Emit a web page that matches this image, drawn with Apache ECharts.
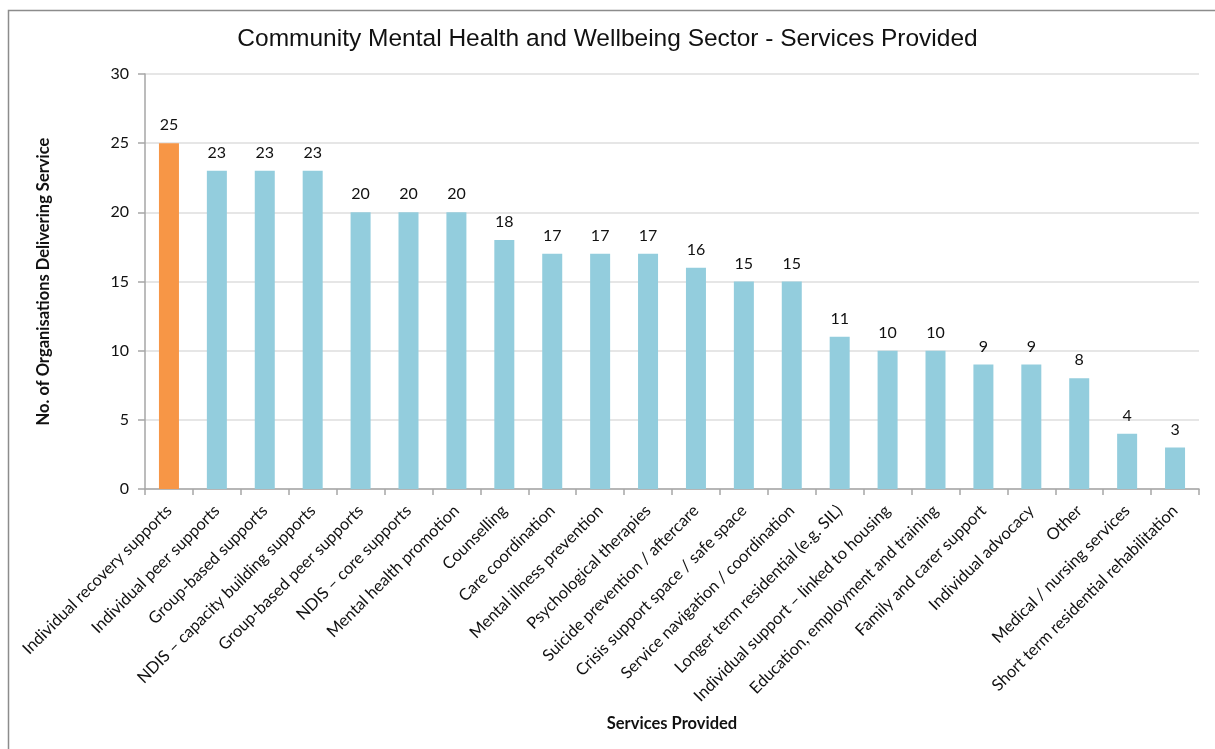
<!DOCTYPE html>
<html>
<head>
<meta charset="utf-8">
<script src="https://cdn.jsdelivr.net/npm/echarts@6/dist/echarts.min.js"></script>
<style>
  html, body { margin: 0; padding: 0; background: #ffffff; }
  #chart { width: 1215px; height: 749px; }
</style>
</head>
<body>
<div id="chart"></div>
<script>
// Services offered by community mental health organisations
const services = [
  'Individual recovery supports',
  'Individual peer supports',
  'Group-based supports',
  'NDIS \u2013 capacity building supports',
  'Group-based peer supports',
  'NDIS \u2013 core supports',
  'Mental health promotion',
  'Counselling',
  'Care coordination',
  'Mental illness prevention',
  'Psychological therapies',
  'Suicide prevention / aftercare',
  'Crisis support space / safe space',
  'Service navigation / coordination',
  'Longer term residential (e.g. SIL)',
  'Individual support \u2013 linked to housing',
  'Education, employment and training',
  'Family and carer support',
  'Individual advocacy',
  'Other',
  'Medical / nursing services',
  'Short term residential rehabilitation'
];

// Number of organisations delivering each service
const orgCounts = [25, 23, 23, 23, 20, 20, 20, 18, 17, 17, 17, 16, 15, 15, 11, 10, 10, 9, 9, 8, 4, 3];

// Index of the highlighted (most common) service
const highlightIndex = 0;

const yTicks = [0, 5, 10, 15, 20, 25, 30];

const textFont = 'Lato, "Open Sans", sans-serif';
const blue = '#93CDDD';
const orange = '#F79646';

const chart = echarts.init(document.getElementById('chart'), null, { renderer: 'canvas' });

chart.setOption({
  animation: false,
  backgroundColor: '#ffffff',
  title: {
    text: 'Community Mental Health and Wellbeing Sector - Services Provided',
    left: 'center',
    top: 22,
    textStyle: {
      fontFamily: '"Liberation Sans", Arial, sans-serif',
      fontSize: 24.5,
      fontWeight: 'normal',
      color: '#111111'
    }
  },
  graphic: [{
    type: 'rect',
    shape: { x: 8.5, y: 10.5, width: 1300, height: 800 },
    style: { fill: 'none', stroke: '#8c8c8c', lineWidth: 1.5 },
    silent: true,
    z: -1
  }],
  grid: {
    left: 145,
    right: 16,
    top: 74,
    bottom: 260,
    containLabel: false
  },
  xAxis: {
    type: 'category',
    data: services,
    boundaryGap: true,
    name: 'Services Provided',
    nameLocation: 'middle',
    nameGap: 226,
    nameTextStyle: {
      fontFamily: textFont,
      fontSize: 16.5,
      fontWeight: 'bold',
      color: '#111111'
    },
    axisLine: { show: true, lineStyle: { color: '#a6a6a6', width: 1.5 } },
    axisTick: { show: true, alignWithLabel: false, length: 6, lineStyle: { color: '#a6a6a6', width: 1.5 } },
    axisLabel: {
      interval: 0,
      rotate: 45,
      margin: 19,
      fontFamily: textFont,
      fontSize: 16.4,
      color: '#111111'
    }
  },
  yAxis: {
    type: 'value',
    min: 0,
    max: 30,
    interval: 5,
    name: 'No. of Organisations Delivering Service',
    nameLocation: 'middle',
    nameGap: 93,
    nameRotate: 90,
    nameTextStyle: {
      fontFamily: textFont,
      fontSize: 16.5,
      fontWeight: 'bold',
      color: '#111111'
    },
    axisLine: { show: true, lineStyle: { color: '#a6a6a6', width: 1.5 } },
    axisTick: { show: true, length: 7, lineStyle: { color: '#a6a6a6', width: 1.5 } },
    axisLabel: {
      margin: 16,
      fontFamily: textFont,
      fontSize: 16,
      color: '#111111',
      formatter: function (v) { return yTicks.indexOf(v) >= 0 ? String(v) : ''; }
    },
    splitLine: { show: true, lineStyle: { color: '#dedede', width: 1.5 } }
  },
  series: [{
    type: 'bar',
    barWidth: 20,
    data: orgCounts.map(function (v, i) {
      return {
        value: v,
        itemStyle: { color: i === highlightIndex ? orange : blue }
      };
    }),
    label: {
      show: true,
      position: 'top',
      distance: 10,
      fontFamily: textFont,
      fontSize: 16,
      color: '#111111'
    }
  }]
});
</script>
</body>
</html>
